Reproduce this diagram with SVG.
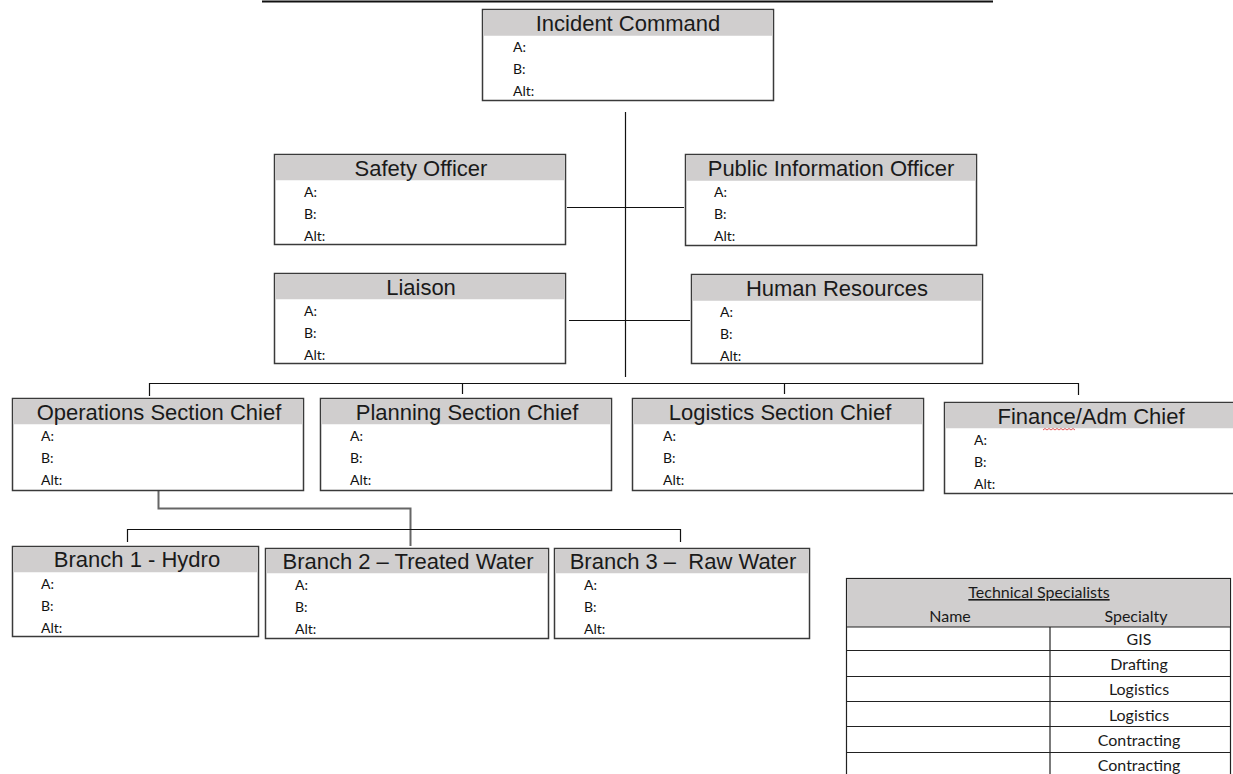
<svg xmlns="http://www.w3.org/2000/svg" width="1233" height="774" viewBox="0 0 1233 774">
<style>
.box{fill:#fff;stroke:#3a3a3a;stroke-width:1.5}
.hdr{fill:#d0cece}
.t{font-family:"Liberation Sans",Arial,sans-serif;font-size:22px;fill:#1a1a1a;text-anchor:middle}
.r{font-family:Lato,"Open Sans",sans-serif;font-size:14px;fill:#111}
.ln{stroke:#111;stroke-width:1.2;fill:none}
.tb{font-family:Lato,"Open Sans",sans-serif;font-size:16px;fill:#1a1a1a;text-anchor:middle}
</style>
<defs>
<g id="rows">
<text class="r" x="0" y="0">A:</text>
<text class="r" x="0" y="22">B:</text>
<text class="r" x="0" y="44">Alt:</text>
</g>
</defs>
<rect width="1233" height="774" fill="#fff"/>
<line x1="262" y1="1.5" x2="993" y2="1.5" stroke="#111" stroke-width="2"/>

<g id="connectors">
<line class="ln" x1="625.5" y1="112" x2="625.5" y2="377"/>
<line class="ln" x1="567" y1="207.5" x2="684" y2="207.5"/>
<line class="ln" x1="569" y1="320.5" x2="690" y2="320.5"/>
<polyline class="ln" points="149.5,396 149.5,383.5 1078.5,383.5 1078.5,395"/>
<line class="ln" x1="462.5" y1="383" x2="462.5" y2="394"/>
<line class="ln" x1="784.5" y1="383" x2="784.5" y2="394"/>
<polyline points="158.5,491 158.5,508.5 410.5,508.5 410.5,546" fill="none" stroke="#666" stroke-width="2"/>
<polyline class="ln" points="127.5,542 127.5,529.5 680.5,529.5 680.5,542"/>
</g>

<g id="incident-command">
<rect class="box" x="482.5" y="9.5" width="291" height="91"/>
<rect class="hdr" x="483.25" y="10.25" width="289.5" height="25.5"/>
<text class="t" x="628" y="31">Incident Command</text>
<use href="#rows" x="513" y="52"/>
</g>

<g id="safety-officer">
<rect class="box" x="274.5" y="154.5" width="291" height="90"/>
<rect class="hdr" x="275.25" y="155.25" width="289.5" height="25"/>
<text class="t" x="421" y="176">Safety Officer</text>
<use href="#rows" x="304" y="197"/>
</g>

<g id="public-information-officer">
<rect class="box" x="685.5" y="154.5" width="291" height="91"/>
<rect class="hdr" x="686.25" y="155.25" width="289.5" height="25.5"/>
<text class="t" x="831" y="176">Public Information Officer</text>
<use href="#rows" x="714" y="197"/>
</g>

<g id="liaison">
<rect class="box" x="274.5" y="273.5" width="291" height="90"/>
<rect class="hdr" x="275.25" y="274.25" width="289.5" height="25"/>
<text class="t" x="421" y="295">Liaison</text>
<use href="#rows" x="304" y="316"/>
</g>

<g id="human-resources">
<rect class="box" x="691.5" y="274.5" width="291" height="89"/>
<rect class="hdr" x="692.25" y="275.25" width="289.5" height="25.5"/>
<text class="t" x="837" y="296">Human Resources</text>
<use href="#rows" x="720" y="317"/>
</g>

<g id="operations">
<rect class="box" x="12.5" y="398.5" width="291" height="92"/>
<rect class="hdr" x="13.25" y="399.25" width="289.5" height="25"/>
<text class="t" x="159" y="420">Operations Section Chief</text>
<use href="#rows" x="41" y="441"/>
</g>

<g id="planning">
<rect class="box" x="320.5" y="398.5" width="291" height="92"/>
<rect class="hdr" x="321.25" y="399.25" width="289.5" height="25"/>
<text class="t" x="467" y="420">Planning Section Chief</text>
<use href="#rows" x="350" y="441"/>
</g>

<g id="logistics">
<rect class="box" x="632.5" y="398.5" width="291" height="92"/>
<rect class="hdr" x="633.25" y="399.25" width="289.5" height="25"/>
<text class="t" x="780" y="420">Logistics Section Chief</text>
<use href="#rows" x="663" y="441"/>
</g>

<g id="finance">
<rect class="box" x="944.5" y="402.5" width="300" height="91"/>
<rect class="hdr" x="945.25" y="403.25" width="290" height="25"/>
<text class="t" x="1091" y="424">Finance/Adm Chief</text>
<path d="M1043 430 l2 -1.5 l2 1.5 l2 -1.5 l2 1.5 l2 -1.5 l2 1.5 l2 -1.5 l2 1.5 l2 -1.5 l2 1.5 l2 -1.5 l2 1.5 l2 -1.5 l2 1.5 l2 -1.5 l2 1.5" fill="none" stroke="#e03030" stroke-width="0.8"/>
<use href="#rows" x="974" y="445"/>
</g>

<g id="branch-1">
<rect class="box" x="12.5" y="546.5" width="246" height="90"/>
<rect class="hdr" x="13.25" y="547.25" width="244.5" height="25"/>
<text class="t" x="137" y="567">Branch 1 - Hydro</text>
<use href="#rows" x="41" y="589"/>
</g>

<g id="branch-2">
<rect class="box" x="265.5" y="548.5" width="283" height="90"/>
<rect class="hdr" x="266.25" y="549.25" width="281.5" height="24"/>
<text class="t" x="408" y="569">Branch 2 – Treated Water</text>
<use href="#rows" x="295" y="590"/>
</g>

<g id="branch-3">
<rect class="box" x="554.5" y="548.5" width="255" height="90"/>
<rect class="hdr" x="555.25" y="549.25" width="253.5" height="24"/>
<text class="t" x="683" y="569" xml:space="preserve">Branch 3 –  Raw Water</text>
<use href="#rows" x="584" y="590"/>
</g>

<g id="technical-specialists">
<rect x="846.5" y="578.5" width="384" height="200" fill="#fff" stroke="#222" stroke-width="1.2"/>
<rect x="847" y="579" width="383" height="48" fill="#d0cece"/>
<g stroke="#222" stroke-width="1.2">
<line x1="846" y1="627" x2="1231" y2="627"/>
<line x1="846" y1="650.5" x2="1231" y2="650.5"/>
<line x1="846" y1="676.5" x2="1231" y2="676.5"/>
<line x1="846" y1="701.5" x2="1231" y2="701.5"/>
<line x1="846" y1="726.5" x2="1231" y2="726.5"/>
<line x1="846" y1="752.5" x2="1231" y2="752.5"/>
<line x1="1050" y1="627" x2="1050" y2="774"/>
</g>
<text class="tb" x="1039" y="598" text-decoration="underline">Technical Specialists</text>
<text class="tb" x="950" y="622">Name</text>
<text class="tb" x="1136" y="622">Specialty</text>
<text class="tb" x="1139" y="645">GIS</text>
<text class="tb" x="1139" y="670">Drafting</text>
<text class="tb" x="1139" y="695">Logistics</text>
<text class="tb" x="1139" y="721">Logistics</text>
<text class="tb" x="1139" y="746">Contracting</text>
<text class="tb" x="1139" y="771">Contracting</text>
</g>
</svg>
